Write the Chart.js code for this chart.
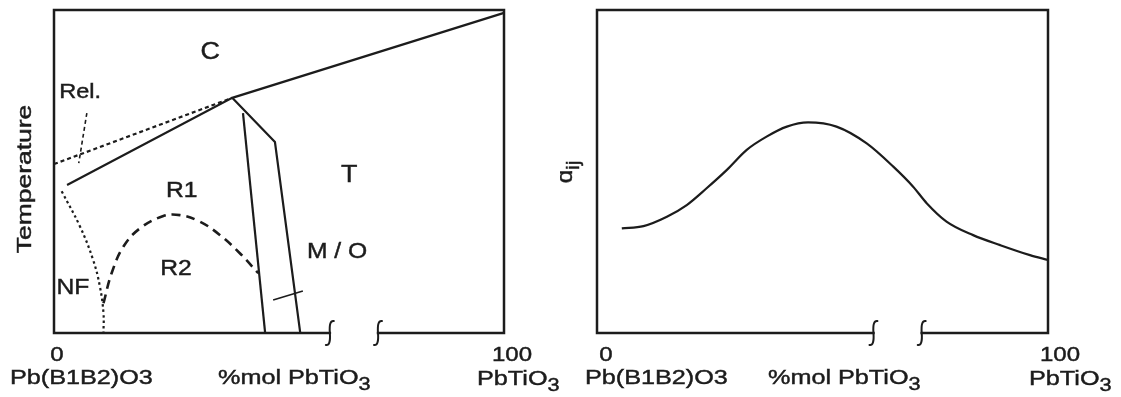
<!DOCTYPE html>
<html>
<head>
<meta charset="utf-8">
<script src="https://cdn.jsdelivr.net/npm/chart.js@4.4.1/dist/chart.umd.min.js"></script>
<style>
  html, body { margin: 0; background: #fff; }
  #wrap { position: relative; width: 1121px; height: 397px; }
  canvas { position: absolute; top: 0; }
  #phase { left: 0; }
  #coef { left: 560px; }
</style>
</head>
<body>
<div id="wrap">
  <canvas id="phase" width="560" height="397"></canvas>
  <canvas id="coef" width="561" height="397"></canvas>
</div>
<script>
// Schematic phase diagram of Pb(B1B2)O3 - PbTiO3 and the d_ij response across the MPB.
// x: %mol PbTiO3 (0..100, axis broken between ~61 and ~72); y: arbitrary units 0..100.

// Curie line (cubic / ferroelectric boundary)
const curieX = [2.9, 39.6, 100];
const curieY = [45.8, 72.8, 99.1];
// relaxor boundary (short dashes) and its "Rel." pointer
const relaxX = [0, 39.6];
const relaxY = [52.3, 72.8];
const relTickX = [7.3, 5.5];
const relTickY = [68.1, 52.6];
// non-ferroelectric (NF) boundary, dotted
const nfX = [1.7, 5.8, 8.7, 10.2, 11.0, 11.0];
const nfY = [43.9, 32.9, 22.6, 14.4, 6.1, 0.3];
// R1 / R2 boundary, long dashes
const r12X = [11.0, 12.8, 15.4, 19.1, 24.3, 28.0, 32.4, 36.9, 41.3, 45.4];
const r12Y = [9.2, 18.5, 26.7, 32.4, 36.2, 36.5, 34.5, 30.3, 24.7, 18.5];
// MPB region limits
const mpbLeftX = [42.0, 46.9];
const mpbLeftY = [68.1, 0.3];
const mpbRightX = [39.6, 49.1, 54.7];
const mpbRightY = [72.8, 59.1, 0.3];
// "M / O" pointer
const moTickX = [48.7, 55.3];
const moTickY = [10.2, 13.0];

// piezoelectric coefficient vs composition
const dijX = [5.5, 10.3, 15.5, 19.9, 24.3, 28.8, 33.2, 37.6, 42.1, 46.8, 53.1, 59.8, 65.7, 70.1, 73.1, 77.5, 83.4, 89.4, 96.0, 100];
const dijY = [32.4, 33.1, 36.0, 39.6, 44.8, 50.5, 56.7, 60.8, 63.9, 65.2, 63.9, 58.7, 51.5, 45.3, 40.2, 34.5, 30.3, 27.2, 24.1, 22.6];

// axis break position (in composition units)
const breakAt = [61.3, 72.0];

const INK = "#1c1c1c";
const FONT = '"Liberation Sans", Arial, Helvetica, sans-serif';
const WIDE = 1.2; // the print face is wider than Arial

const pts = (xs, ys) => xs.map((x, i) => ({ x, y: ys[i] }));

function line(xs, ys, opt = {}) {
  return Object.assign({
    data: pts(xs, ys), borderColor: INK, borderWidth: 2.2, pointRadius: 0,
    tension: 0, fill: false, clip: 6, borderCapStyle: "butt",
  }, opt);
}

// text made of normal and subscript runs, stretched sideways by `sx`
function rich(ctx, parts, x, y, size, align, sx = WIDE) {
  const sub = size * 0.86;
  const w = parts.map(([t, s]) => {
    ctx.font = `${s ? sub : size}px ${FONT}`;
    return ctx.measureText(t).width;
  });
  const total = w.reduce((a, b) => a + b, 0) * sx;
  const x0 = align === "center" ? x - total / 2 : align === "right" ? x - total : x;
  ctx.save();
  ctx.translate(x0, y);
  ctx.scale(sx, 1);
  ctx.textAlign = "left";
  ctx.lineWidth = 0.45;
  let cx = 0;
  parts.forEach(([t, s], i) => {
    ctx.font = `${s ? sub : size}px ${FONT}`;
    const ty = s ? size * 0.3 : 0;
    ctx.fillText(t, cx, ty);
    ctx.strokeText(t, cx, ty);
    cx += w[i];
  });
  ctx.restore();
}

function squiggle(ctx, x, y) {
  ctx.beginPath();
  ctx.moveTo(x + 4, y - 12);
  ctx.quadraticCurveTo(x - 1, y - 13, x, y);
  ctx.quadraticCurveTo(x + 1, y + 13, x - 4, y + 12);
  ctx.stroke();
}

// box with broken composition axis + all annotation text
const framePlugin = {
  id: "frame",
  afterDraw(chart, args, o) {
    const { ctx, chartArea: a, scales: { x, y } } = chart;
    ctx.save();
    ctx.strokeStyle = INK;
    ctx.fillStyle = INK;
    ctx.lineWidth = 2.5;
    ctx.lineCap = "square";
    ctx.beginPath();
    ctx.moveTo(x.getPixelForValue(breakAt[0]), a.bottom);
    ctx.lineTo(a.left, a.bottom);
    ctx.lineTo(a.left, a.top);
    ctx.lineTo(a.right, a.top);
    ctx.lineTo(a.right, a.bottom);
    ctx.lineTo(x.getPixelForValue(breakAt[1]), a.bottom);
    ctx.stroke();
    ctx.lineWidth = 2;
    ctx.lineCap = "round";
    breakAt.forEach((b) => squiggle(ctx, x.getPixelForValue(b), a.bottom));

    ctx.textBaseline = "alphabetic";
    for (const t of o.texts || []) {
      rich(ctx, t.parts, a.left + t.dx, t.y, t.size, t.align || "left");
    }
    for (const t of o.labels || []) {
      rich(ctx, [[t.text]], x.getPixelForValue(t.x), y.getPixelForValue(t.y) + t.size * 0.36, t.size, "center", 1.12);
    }
    if (o.yTitle) {
      ctx.save();
      ctx.translate(o.yTitle.x, o.yTitle.y);
      ctx.rotate(-Math.PI / 2);
      rich(ctx, o.yTitle.parts, 0, 0, o.yTitle.size, "center", o.yTitle.sx);
      ctx.restore();
    }
    ctx.restore();
  },
};

const axisTexts = (zeroDx, pbDx, mpbDx, hundredDx, pbRight) => [
  { parts: [["0"]], dx: zeroDx, y: 361, size: 20, align: "center" },
  { parts: [["Pb(B1B2)O3"]], dx: pbDx, y: 384, size: 21 },
  { parts: [["%mol PbTiO"], ["3", true]], dx: mpbDx, y: 384, size: 21 },
  { parts: [["100"]], dx: 450 + hundredDx, y: 361, size: 20, align: "center" },
  { parts: [["PbTiO"], ["3", true]], dx: 450 + pbRight, y: 385, size: 21 },
];

function opts(padding, frame) {
  return {
    responsive: false, animation: false, events: [],
    layout: { padding },
    scales: {
      x: { type: "linear", min: 0, max: 100, display: false },
      y: { type: "linear", min: 0, max: 100, display: false },
    },
    plugins: { legend: { display: false }, tooltip: { enabled: false }, frame },
  };
}

new Chart(document.getElementById("phase"), {
  type: "line",
  data: {
    datasets: [
      line(curieX, curieY),
      line(relaxX, relaxY, { borderDash: [4, 3] }),
      line(relTickX, relTickY, { borderDash: [4, 3], borderWidth: 1.6 }),
      line(nfX, nfY, { borderDash: [2.5, 3], tension: 0.4 }),
      line(r12X, r12Y, { borderDash: [9, 6], borderWidth: 2.6, tension: 0.4 }),
      line(mpbLeftX, mpbLeftY),
      line(mpbRightX, mpbRightY),
      line(moTickX, moTickY, { borderWidth: 1.6 }),
    ],
  },
  options: opts({ left: 54, top: 10, right: 56, bottom: 64 }, {
    texts: axisTexts(3, -44, 164, 8, -27),
    labels: [
      { text: "C", x: 34.7, y: 87.6, size: 24 },
      { text: "Rel.", x: 5.8, y: 75, size: 21 },
      { text: "T", x: 65.6, y: 49.5, size: 24 },
      { text: "R1", x: 28.4, y: 44.6, size: 22 },
      { text: "M / O", x: 62.9, y: 25.6, size: 22 },
      { text: "R2", x: 27.1, y: 20.4, size: 22 },
      { text: "NF", x: 4.2, y: 14.5, size: 22 },
    ],
    yTitle: { parts: [["Temperature"]], x: 31, y: 179, size: 21, sx: 1.26 },
  }),
  plugins: [framePlugin],
});

new Chart(document.getElementById("coef"), {
  type: "line",
  data: { datasets: [line(dijX, dijY, { cubicInterpolationMode: "monotone", borderWidth: 2.2 })] },
  options: opts({ left: 37, top: 10, right: 73, bottom: 64 }, {
    texts: axisTexts(9, -12, 171, 13, -18),
    yTitle: { parts: [["d"], ["ij", true]], x: 12, y: 172, size: 22, sx: 1.1 },
  }),
  plugins: [framePlugin],
});
</script>
</body>
</html>
